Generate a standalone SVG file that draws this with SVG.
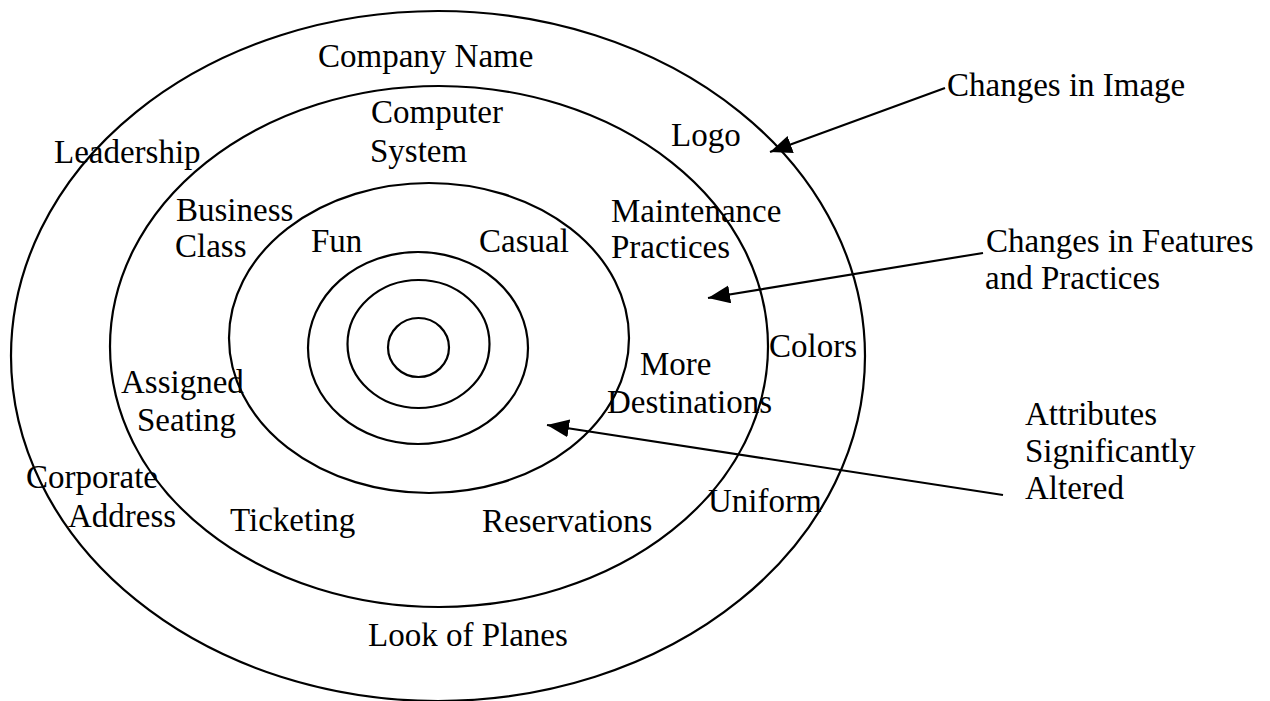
<svg xmlns="http://www.w3.org/2000/svg" width="1270" height="701" viewBox="0 0 1270 701">
<style>
.ring{fill:none;stroke:#000;stroke-width:2.2}
.lbl{font-family:"Liberation Serif","Times New Roman",serif;font-size:33px;fill:#000}
.conn{fill:none;stroke:#000;stroke-width:2.2}
</style>
<defs>
<marker id="ah" markerUnits="userSpaceOnUse" markerWidth="24" markerHeight="20" refX="22" refY="9" orient="auto">
<path d="M0,0 L22,9 L0,18 Z" fill="#000"/>
</marker>
</defs>
<rect width="1270" height="701" fill="#fff"/>
<g id="rings">
<ellipse id="ring1" class="ring" cx="438" cy="356" rx="427" ry="345"/>
<ellipse id="ring2" class="ring" cx="439" cy="346.5" rx="329" ry="260.5"/>
<ellipse id="ring3" class="ring" cx="429" cy="338" rx="200" ry="155"/>
<ellipse id="ring4" class="ring" cx="418" cy="348" rx="110" ry="96"/>
<ellipse id="ring5" class="ring" cx="418.5" cy="344" rx="71" ry="64"/>
<ellipse id="ring6" class="ring" cx="418.5" cy="347.5" rx="30.5" ry="29.5"/>
</g>
<g id="labels-image" class="lbl">
<text id="company-name" x="318" y="67">Company Name</text>
<text id="leadership" x="54" y="163">Leadership</text>
<text id="logo" x="671" y="146">Logo</text>
<text id="colors" x="769" y="357">Colors</text>
<text id="corporate-address" x="26" y="488">Corporate<tspan x="68" y="527">Address</tspan></text>
<text id="uniform" x="708" y="512">Uniform</text>
<text id="look-of-planes" x="368" y="646">Look of Planes</text>
</g>
<g id="labels-features" class="lbl">
<text id="computer-system" x="371" y="123">Computer<tspan x="370" y="162">System</tspan></text>
<text id="business-class" x="176" y="221">Business<tspan x="175" y="257">Class</tspan></text>
<text id="maintenance" x="611" y="222">Maintenance<tspan x="611" y="258">Practices</tspan></text>
<text id="assigned-seating" x="121" y="393">Assigned<tspan x="137" y="431">Seating</tspan></text>
<text id="more-destinations" x="640" y="375">More<tspan x="607" y="413">Destinations</tspan></text>
<text id="ticketing" x="230" y="531">Ticketing</text>
<text id="reservations" x="482" y="532">Reservations</text>
</g>
<g id="labels-attributes" class="lbl">
<text id="fun" x="311" y="252">Fun</text>
<text id="casual" x="479" y="252">Casual</text>
</g>
<g id="legend-image" class="lbl"><text x="947" y="96">Changes in Image</text></g>
<g id="legend-features" class="lbl"><text x="986" y="252">Changes in Features<tspan x="985" y="289">and Practices</tspan></text></g>
<g id="legend-attributes" class="lbl"><text x="1025" y="425">Attributes<tspan x="1025" y="462">Significantly</tspan><tspan x="1025" y="499">Altered</tspan></text></g>
<g id="connectors">
<line class="conn" x1="945" y1="88" x2="770" y2="152" marker-end="url(#ah)"/>
<line class="conn" x1="983" y1="253" x2="708" y2="298" marker-end="url(#ah)"/>
<line class="conn" x1="1003" y1="495" x2="547" y2="425" marker-end="url(#ah)"/>
</g>
</svg>
